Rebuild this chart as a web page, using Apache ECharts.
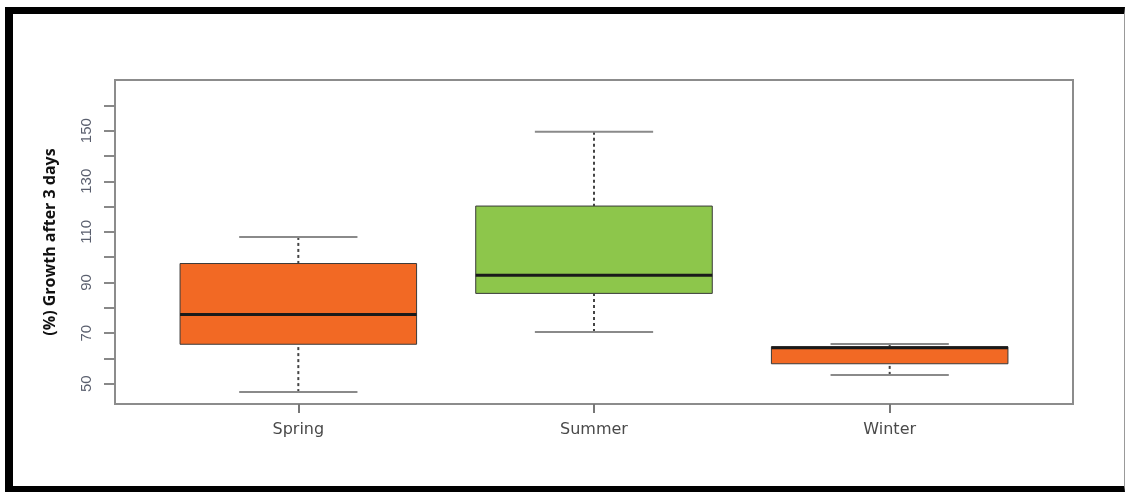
<!DOCTYPE html>
<html>
<head>
<meta charset="utf-8">
<title>Growth after 3 days</title>
<script src="https://cdn.jsdelivr.net/npm/echarts@6/dist/echarts.min.js"></script>
<style>
  html, body { margin: 0; padding: 0; background: #fff; }
  #chart { width: 1125px; height: 492px; }
  #frame {
    position: absolute; left: 5px; top: 7px; width: 1120px; height: 485px;
    box-sizing: border-box; pointer-events: none;
    border-left: 8px solid #000; border-top: 7px solid #000;
    border-bottom: 6px solid #000; border-right: 1px solid #999;
  }
</style>
</head>
<body>
<div id="chart"></div>
<div id="frame"></div>
<script>
// boxplot stats per season
const categories = ['Spring', 'Summer', 'Winter']
const whiskerLow = [46.7, 70.4, 53.5]
const q1 = [65.6, 85.7, 57.9]
const median = [77.4, 92.9, 64.2]
const q3 = [97.5, 120.2, 64.6]
const whiskerHigh = [108.0, 149.6, 65.7]
const boxColors = ['#F26924', '#8DC64B', '#F26924']

const yTicks = [50, 60, 70, 80, 90, 100, 110, 120, 130, 140, 150, 160]
const yLabels = [50, 70, 90, 110, 130, 150]

const rows = categories.map((c, i) => [i + 1, whiskerLow[i], q1[i], median[i], q3[i], whiskerHigh[i]])

const chart = echarts.init(document.getElementById('chart'))

chart.setOption({
  animation: false,
  grid: {
    left: 115, right: 52, top: 80, bottom: 88,
    show: true, borderColor: '#8c8c8c', borderWidth: 2, backgroundColor: '#fff'
  },
  xAxis: {
    type: 'value',
    min: 0.38,
    max: 3.62,
    axisLine: { show: false },
    splitLine: { show: false },
    axisTick: { show: true, length: 9, lineStyle: { color: '#777', width: 2 }, customValues: [1, 2, 3] },
    axisLabel: {
      customValues: [1, 2, 3],
      formatter: v => categories[Math.round(v) - 1],
      margin: 18,
      fontSize: 16,
      color: '#4a4a4a',
      fontFamily: 'DejaVu Sans, Liberation Sans, sans-serif'
    }
  },
  yAxis: {
    type: 'value',
    min: 42,
    max: 170,
    name: '(%) Growth after 3 days',
    nameLocation: 'middle',
    nameGap: 57,
    nameTextStyle: { fontSize: 16, fontWeight: 'bold', color: '#111', fontFamily: 'Open Sans, Liberation Sans, sans-serif' },
    axisLine: { show: false },
    splitLine: { show: false },
    axisTick: { show: true, length: 11, lineStyle: { color: '#888', width: 2 }, customValues: yTicks },
    axisLabel: {
      customValues: yLabels,
      rotate: 90,
      margin: 21,
      fontSize: 15,
      color: '#5a5f6e',
      fontFamily: 'Liberation Sans, Arial, sans-serif'
    }
  },
  series: [{
    type: 'custom',
    data: rows,
    encode: { x: 0, y: [1, 2, 3, 4, 5] },
    renderItem: function (params, api) {
      const x = api.value(0)
      const lo = api.coord([x, api.value(1)])
      const b1 = api.coord([x, api.value(2)])
      const md = api.coord([x, api.value(3)])
      const b3 = api.coord([x, api.value(4)])
      const hi = api.coord([x, api.value(5)])
      const bw = api.size([0.8, 0])[0]
      const cw = api.size([0.4, 0])[0]
      const dotted = { stroke: '#444', lineWidth: 2, lineDash: [3, 3] }
      const cap = { stroke: '#8a8a8a', lineWidth: 2 }
      return {
        type: 'group',
        children: [
          { type: 'line', shape: { x1: hi[0], y1: hi[1], x2: b3[0], y2: b3[1] }, style: dotted },
          { type: 'line', shape: { x1: lo[0], y1: lo[1], x2: b1[0], y2: b1[1] }, style: dotted },
          { type: 'line', shape: { x1: hi[0] - cw / 2, y1: hi[1], x2: hi[0] + cw / 2, y2: hi[1] }, style: cap },
          { type: 'line', shape: { x1: lo[0] - cw / 2, y1: lo[1], x2: lo[0] + cw / 2, y2: lo[1] }, style: cap },
          {
            type: 'rect',
            shape: { x: b3[0] - bw / 2, y: b3[1], width: bw, height: b1[1] - b3[1] },
            style: { fill: boxColors[params.dataIndex], stroke: '#3a3a3a', lineWidth: 1 }
          },
          { type: 'line', shape: { x1: md[0] - bw / 2, y1: md[1], x2: md[0] + bw / 2, y2: md[1] }, style: { stroke: '#1a1a1a', lineWidth: 3 } }
        ]
      }
    }
  }]
})
</script>
</body>
</html>
